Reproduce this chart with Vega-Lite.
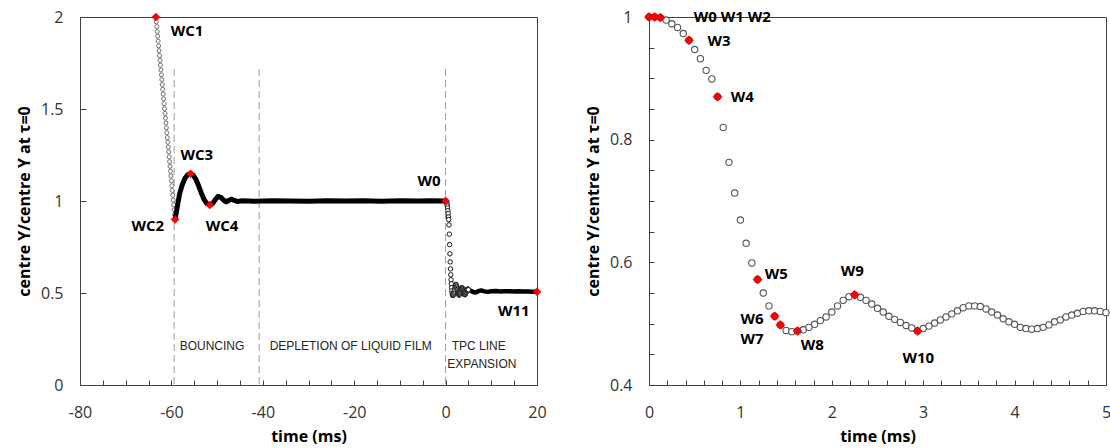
{
  "$schema": "https://vega.github.io/schema/vega-lite/v6.json",
  "padding": {"left": 16, "top": 8, "right": 0, "bottom": 0},
  "spacing": 38,
  "config": {
    "view": {"stroke": "#404040"},
    "axis": {
      "grid": false,
      "labelFont": "Open Sans",
      "labelFontSize": 16,
      "labelColor": "#333333",
      "titleFont": "Open Sans",
      "titleFontSize": 16,
      "titleFontWeight": "bold",
      "titleColor": "#000000",
      "domainColor": "#404040",
      "tickColor": "#404040",
      "labelFlush": false
    }
  },
  "datasets": {
    "fallA": [
      {"t": -63.4, "v": 2.0}, {"t": -63.3, "v": 1.974}, {"t": -63.2, "v": 1.948}, {"t": -63.1, "v": 1.921},
      {"t": -63.0, "v": 1.895}, {"t": -62.9, "v": 1.869}, {"t": -62.8, "v": 1.843}, {"t": -62.7, "v": 1.817},
      {"t": -62.6, "v": 1.79}, {"t": -62.5, "v": 1.764}, {"t": -62.4, "v": 1.738}, {"t": -62.3, "v": 1.712},
      {"t": -62.2, "v": 1.686}, {"t": -62.1, "v": 1.66}, {"t": -62.0, "v": 1.633}, {"t": -61.9, "v": 1.607},
      {"t": -61.8, "v": 1.581}, {"t": -61.7, "v": 1.555}, {"t": -61.6, "v": 1.529}, {"t": -61.5, "v": 1.502},
      {"t": -61.4, "v": 1.476}, {"t": -61.3, "v": 1.45}, {"t": -61.2, "v": 1.424}, {"t": -61.1, "v": 1.398},
      {"t": -61.0, "v": 1.371}, {"t": -60.9, "v": 1.345}, {"t": -60.8, "v": 1.319}, {"t": -60.7, "v": 1.293},
      {"t": -60.6, "v": 1.267}, {"t": -60.5, "v": 1.24}, {"t": -60.4, "v": 1.214}, {"t": -60.3, "v": 1.188},
      {"t": -60.2, "v": 1.162}, {"t": -60.1, "v": 1.136}, {"t": -60.0, "v": 1.11}, {"t": -59.9, "v": 1.083},
      {"t": -59.8, "v": 1.057}, {"t": -59.7, "v": 1.031}, {"t": -59.6, "v": 1.005}, {"t": -59.5, "v": 0.979},
      {"t": -59.4, "v": 0.952}, {"t": -59.3, "v": 0.926}, {"t": -59.2, "v": 0.9}
    ],
    "lineA": [
      {"t": -59.2, "v": 0.9}, {"t": -58.7, "v": 0.97}, {"t": -58.2, "v": 1.04}, {"t": -57.6, "v": 1.09},
      {"t": -57.0, "v": 1.125}, {"t": -56.4, "v": 1.143}, {"t": -55.8, "v": 1.148}, {"t": -55.2, "v": 1.14},
      {"t": -54.6, "v": 1.115}, {"t": -54.0, "v": 1.08}, {"t": -53.4, "v": 1.04}, {"t": -52.8, "v": 1.005},
      {"t": -52.2, "v": 0.985}, {"t": -51.6, "v": 0.978}, {"t": -51.0, "v": 0.985}, {"t": -50.4, "v": 1.008},
      {"t": -49.8, "v": 1.025}, {"t": -49.2, "v": 1.02}, {"t": -48.6, "v": 1.005}, {"t": -48.0, "v": 0.995},
      {"t": -47.4, "v": 1.004}, {"t": -46.8, "v": 1.01}, {"t": -46.2, "v": 1.003}, {"t": -45.5, "v": 0.997},
      {"t": -44.5, "v": 1.001}, {"t": -42.0, "v": 0.999}, {"t": -38.0, "v": 1.001}, {"t": -34.0, "v": 1.0},
      {"t": -30.0, "v": 0.999}, {"t": -26.0, "v": 1.002}, {"t": -22.0, "v": 1.0}, {"t": -18.0, "v": 1.001},
      {"t": -14.0, "v": 0.999}, {"t": -10.0, "v": 1.001}, {"t": -6.0, "v": 1.0}, {"t": -3.0, "v": 1.001},
      {"t": 0.0, "v": 1.0}
    ],
    "tailA": [
      {"t": 5.0, "v": 0.518}, {"t": 5.5, "v": 0.512}, {"t": 6.0, "v": 0.505}, {"t": 6.6, "v": 0.503},
      {"t": 7.2, "v": 0.51}, {"t": 7.8, "v": 0.514}, {"t": 8.5, "v": 0.509}, {"t": 9.2, "v": 0.506},
      {"t": 10.0, "v": 0.509}, {"t": 11.0, "v": 0.511}, {"t": 12.0, "v": 0.508}, {"t": 13.0, "v": 0.509},
      {"t": 14.0, "v": 0.51}, {"t": 15.0, "v": 0.508}, {"t": 16.0, "v": 0.509}, {"t": 17.0, "v": 0.508},
      {"t": 18.0, "v": 0.508}, {"t": 19.0, "v": 0.507}, {"t": 20.0, "v": 0.507}
    ],
    "spread": [
      {"t": 0, "v": 1.0, "w": "W0"}, {"t": 0.0625, "v": 1.0, "w": "W1"}, {"t": 0.125, "v": 0.999, "w": "W2"},
      {"t": 0.1875, "v": 0.995}, {"t": 0.25, "v": 0.989}, {"t": 0.3125, "v": 0.983}, {"t": 0.375, "v": 0.973},
      {"t": 0.4375, "v": 0.962, "w": "W3"}, {"t": 0.5, "v": 0.947}, {"t": 0.5625, "v": 0.932}, {"t": 0.625, "v": 0.913},
      {"t": 0.6875, "v": 0.899}, {"t": 0.75, "v": 0.87, "w": "W4"}, {"t": 0.8125, "v": 0.82}, {"t": 0.875, "v": 0.763},
      {"t": 0.9375, "v": 0.713}, {"t": 1.0, "v": 0.669}, {"t": 1.0625, "v": 0.631}, {"t": 1.125, "v": 0.599},
      {"t": 1.1875, "v": 0.572, "w": "W5"}, {"t": 1.25, "v": 0.55}, {"t": 1.3125, "v": 0.529},
      {"t": 1.375, "v": 0.512, "w": "W6"}, {"t": 1.4375, "v": 0.498, "w": "W7"}, {"t": 1.5, "v": 0.489},
      {"t": 1.5625, "v": 0.487}, {"t": 1.625, "v": 0.488, "w": "W8"}, {"t": 1.6875, "v": 0.49}, {"t": 1.75, "v": 0.494},
      {"t": 1.8125, "v": 0.499}, {"t": 1.875, "v": 0.505}, {"t": 1.9375, "v": 0.511}, {"t": 2.0, "v": 0.519},
      {"t": 2.0625, "v": 0.529}, {"t": 2.125, "v": 0.538}, {"t": 2.1875, "v": 0.544}, {"t": 2.25, "v": 0.547, "w": "W9"},
      {"t": 2.3125, "v": 0.543}, {"t": 2.375, "v": 0.538}, {"t": 2.4375, "v": 0.532}, {"t": 2.5, "v": 0.525},
      {"t": 2.5625, "v": 0.519}, {"t": 2.625, "v": 0.512}, {"t": 2.6875, "v": 0.507}, {"t": 2.75, "v": 0.502},
      {"t": 2.8125, "v": 0.497}, {"t": 2.875, "v": 0.493}, {"t": 2.9375, "v": 0.488, "w": "W10"}, {"t": 3.0, "v": 0.492},
      {"t": 3.0625, "v": 0.496}, {"t": 3.125, "v": 0.501}, {"t": 3.1875, "v": 0.506}, {"t": 3.25, "v": 0.511},
      {"t": 3.3125, "v": 0.516}, {"t": 3.375, "v": 0.521}, {"t": 3.4375, "v": 0.526}, {"t": 3.5, "v": 0.529},
      {"t": 3.5625, "v": 0.529}, {"t": 3.625, "v": 0.528}, {"t": 3.6875, "v": 0.524}, {"t": 3.75, "v": 0.519},
      {"t": 3.8125, "v": 0.514}, {"t": 3.875, "v": 0.508}, {"t": 3.9375, "v": 0.503}, {"t": 4.0, "v": 0.499},
      {"t": 4.0625, "v": 0.494}, {"t": 4.125, "v": 0.492}, {"t": 4.1875, "v": 0.491}, {"t": 4.25, "v": 0.492},
      {"t": 4.3125, "v": 0.494}, {"t": 4.375, "v": 0.498}, {"t": 4.4375, "v": 0.503}, {"t": 4.5, "v": 0.506},
      {"t": 4.5625, "v": 0.511}, {"t": 4.625, "v": 0.514}, {"t": 4.6875, "v": 0.517}, {"t": 4.75, "v": 0.52},
      {"t": 4.8125, "v": 0.521}, {"t": 4.875, "v": 0.521}, {"t": 4.9375, "v": 0.52}, {"t": 5.0, "v": 0.518}
    ],
    "redA": [
      {"name": "WC1", "t": -63.4, "v": 2.0}, {"name": "WC2", "t": -59.2, "v": 0.9},
      {"name": "WC3", "t": -55.8, "v": 1.148}, {"name": "WC4", "t": -51.6, "v": 0.978},
      {"name": "W0", "t": 0, "v": 1.0}, {"name": "W11", "t": 20, "v": 0.507}
    ],
    "labelsA": [
      {"name": "WC1", "t": -60.15, "v": 1.924}, {"name": "WC2", "t": -61.6, "v": 0.866},
      {"name": "WC3", "t": -58.0, "v": 1.25}, {"name": "WC4", "t": -52.5, "v": 0.866},
      {"name": "W0", "t": -1.1, "v": 1.107}, {"name": "W11", "t": 18.4, "v": 0.4}
    ],
    "regionsA": [
      {"text": "BOUNCING", "t": -58.2, "v": 0.212},
      {"text": "DEPLETION OF LIQUID FILM", "t": -38.5, "v": 0.212},
      {"text": "TPC LINE", "t": 1.33, "v": 0.212},
      {"text": "EXPANSION", "t": 0.37, "v": 0.116}
    ],
    "dividers": [
      {"t": -59.4, "v": 1.717, "v2": 0}, {"t": -40.8, "v": 1.717, "v2": 0}, {"t": 0, "v": 1.717, "v2": 0}
    ],
    "labelsB": [
      {"name": "W0 W1 W2", "t": 0.489, "v": 1.0}, {"name": "W3", "t": 0.64, "v": 0.961},
      {"name": "W4", "t": 0.894, "v": 0.87}, {"name": "W5", "t": 1.267, "v": 0.581},
      {"name": "W6", "t": 1.255, "v": 0.508}, {"name": "W7", "t": 1.255, "v": 0.475},
      {"name": "W8", "t": 1.66, "v": 0.466}, {"name": "W9", "t": 2.225, "v": 0.586},
      {"name": "W10", "t": 2.947, "v": 0.444}
    ]
  },
  "hconcat": [
    {
      "width": 457,
      "height": 368,
      "encoding": {
        "x": {
          "field": "t", "type": "quantitative", "title": "time (ms)",
          "scale": {"domain": [-80, 20]},
          "axis": {
            "values": [-80, -75, -70, -65, -60, -55, -50, -45, -40, -35, -30, -25, -20, -15, -10, -5, 0, 5, 10, 15, 20],
            "labelExpr": "datum.value % 20 === 0 ? replace(datum.label, '\u2212', '-') : ''",
            "format": "~g",
            "tickSize": -5, "labelPadding": 24, "labelOverlap": false, "titlePadding": 8
          }
        },
        "y": {
          "field": "v", "type": "quantitative", "title": "centre Y/centre Y at τ=0",
          "scale": {"domain": [0, 2]},
          "axis": {
            "values": [0, 0.5, 1, 1.5, 2], "format": "~g",
            "tickSize": -6, "labelPadding": 23, "labelOverlap": false, "titlePadding": 8
          }
        }
      },
      "layer": [
        {
          "data": {"name": "dividers"},
          "mark": {"type": "rule", "strokeDash": [7, 4], "color": "#9a9a9a", "strokeWidth": 1},
          "encoding": {"y2": {"field": "v2"}}
        },
        {
          "data": {"name": "regionsA"},
          "mark": {"type": "text", "align": "left", "baseline": "middle", "font": "Liberation Sans", "fontSize": 12, "fontWeight": "normal", "color": "#262626"},
          "encoding": {"text": {"field": "text"}}
        },
        {
          "data": {"name": "fallA"},
          "mark": {"type": "point", "shape": "circle", "size": 16, "filled": false, "fill": "white", "fillOpacity": 1, "stroke": "#707070", "strokeWidth": 1}
        },
        {
          "data": {"name": "lineA"},
          "mark": {"type": "line", "color": "#000000", "strokeWidth": 5, "strokeJoin": "round", "strokeCap": "round"}
        },
        {
          "data": {"name": "tailA"},
          "mark": {"type": "line", "color": "#000000", "strokeWidth": 4.5, "strokeJoin": "round", "strokeCap": "round"}
        },
        {
          "data": {"name": "spread"},
          "mark": {"type": "point", "shape": "circle", "size": 20, "filled": false, "fill": "white", "fillOpacity": 1, "stroke": "#1a1a1a", "strokeWidth": 1}
        },
        {
          "data": {"name": "redA"},
          "mark": {"type": "point", "shape": "diamond", "size": 64, "filled": true, "fill": "#ff0000", "fillOpacity": 1, "stroke": "#c00000", "strokeWidth": 0.5}
        },
        {
          "data": {"name": "labelsA"},
          "transform": [{"filter": "indexof(['WC2', 'W0', 'W11'], datum.name) < 0"}],
          "mark": {"type": "text", "align": "left", "baseline": "middle", "font": "Open Sans", "fontSize": 15, "fontWeight": "bold", "color": "#000000"},
          "encoding": {"text": {"field": "name"}}
        },
        {
          "data": {"name": "labelsA"},
          "transform": [{"filter": "indexof(['WC2', 'W0', 'W11'], datum.name) >= 0"}],
          "mark": {"type": "text", "align": "right", "baseline": "middle", "font": "Open Sans", "fontSize": 15, "fontWeight": "bold", "color": "#000000"},
          "encoding": {"text": {"field": "name"}}
        }
      ]
    },
    {
      "width": 457,
      "height": 368,
      "encoding": {
        "x": {
          "field": "t", "type": "quantitative", "title": "time (ms)",
          "scale": {"domain": [0, 5]},
          "axis": {
            "values": [0, 0.2, 0.4, 0.6, 0.8, 1, 1.2, 1.4, 1.6, 1.8, 2, 2.2, 2.4, 2.6, 2.8, 3, 3.2, 3.4, 3.6, 3.8, 4, 4.2, 4.4, 4.6, 4.8, 5],
            "labelExpr": "datum.value % 1 === 0 ? datum.label : ''",
            "format": "~g",
            "tickSize": -5, "labelPadding": 24, "labelOverlap": false, "titlePadding": 8
          }
        },
        "y": {
          "field": "v", "type": "quantitative", "title": "centre Y/centre Y at τ=0",
          "scale": {"domain": [0.4, 1]},
          "axis": {
            "values": [0.4, 0.45, 0.5, 0.55, 0.6, 0.65, 0.7, 0.75, 0.8, 0.85, 0.9, 0.95, 1],
            "labelExpr": "indexof([0.4, 0.6, 0.8, 1], datum.value) >= 0 ? datum.label : ''",
            "format": "~g",
            "tickSize": -5, "labelPadding": 22, "labelOverlap": false, "titlePadding": 8
          }
        }
      },
      "layer": [
        {
          "data": {"name": "spread"},
          "mark": {"type": "point", "shape": "circle", "size": 40, "filled": false, "fill": "white", "fillOpacity": 1, "stroke": "#555555", "strokeWidth": 1.1}
        },
        {
          "data": {"name": "spread"},
          "transform": [{"filter": "datum.w != null"}],
          "mark": {"type": "point", "shape": "diamond", "size": 81, "filled": true, "fill": "#ff0000", "fillOpacity": 1, "stroke": "#c00000", "strokeWidth": 0.5}
        },
        {
          "data": {"name": "labelsB"},
          "transform": [{"filter": "indexof(['W6', 'W7', 'W9', 'W10'], datum.name) < 0"}],
          "mark": {"type": "text", "align": "left", "baseline": "middle", "font": "Open Sans", "fontSize": 15, "fontWeight": "bold", "color": "#000000"},
          "encoding": {"text": {"field": "name"}}
        },
        {
          "data": {"name": "labelsB"},
          "transform": [{"filter": "indexof(['W6', 'W7'], datum.name) >= 0"}],
          "mark": {"type": "text", "align": "right", "baseline": "middle", "font": "Open Sans", "fontSize": 15, "fontWeight": "bold", "color": "#000000"},
          "encoding": {"text": {"field": "name"}}
        },
        {
          "data": {"name": "labelsB"},
          "transform": [{"filter": "indexof(['W9', 'W10'], datum.name) >= 0"}],
          "mark": {"type": "text", "align": "center", "baseline": "middle", "font": "Open Sans", "fontSize": 15, "fontWeight": "bold", "color": "#000000"},
          "encoding": {"text": {"field": "name"}}
        }
      ]
    }
  ]
}
